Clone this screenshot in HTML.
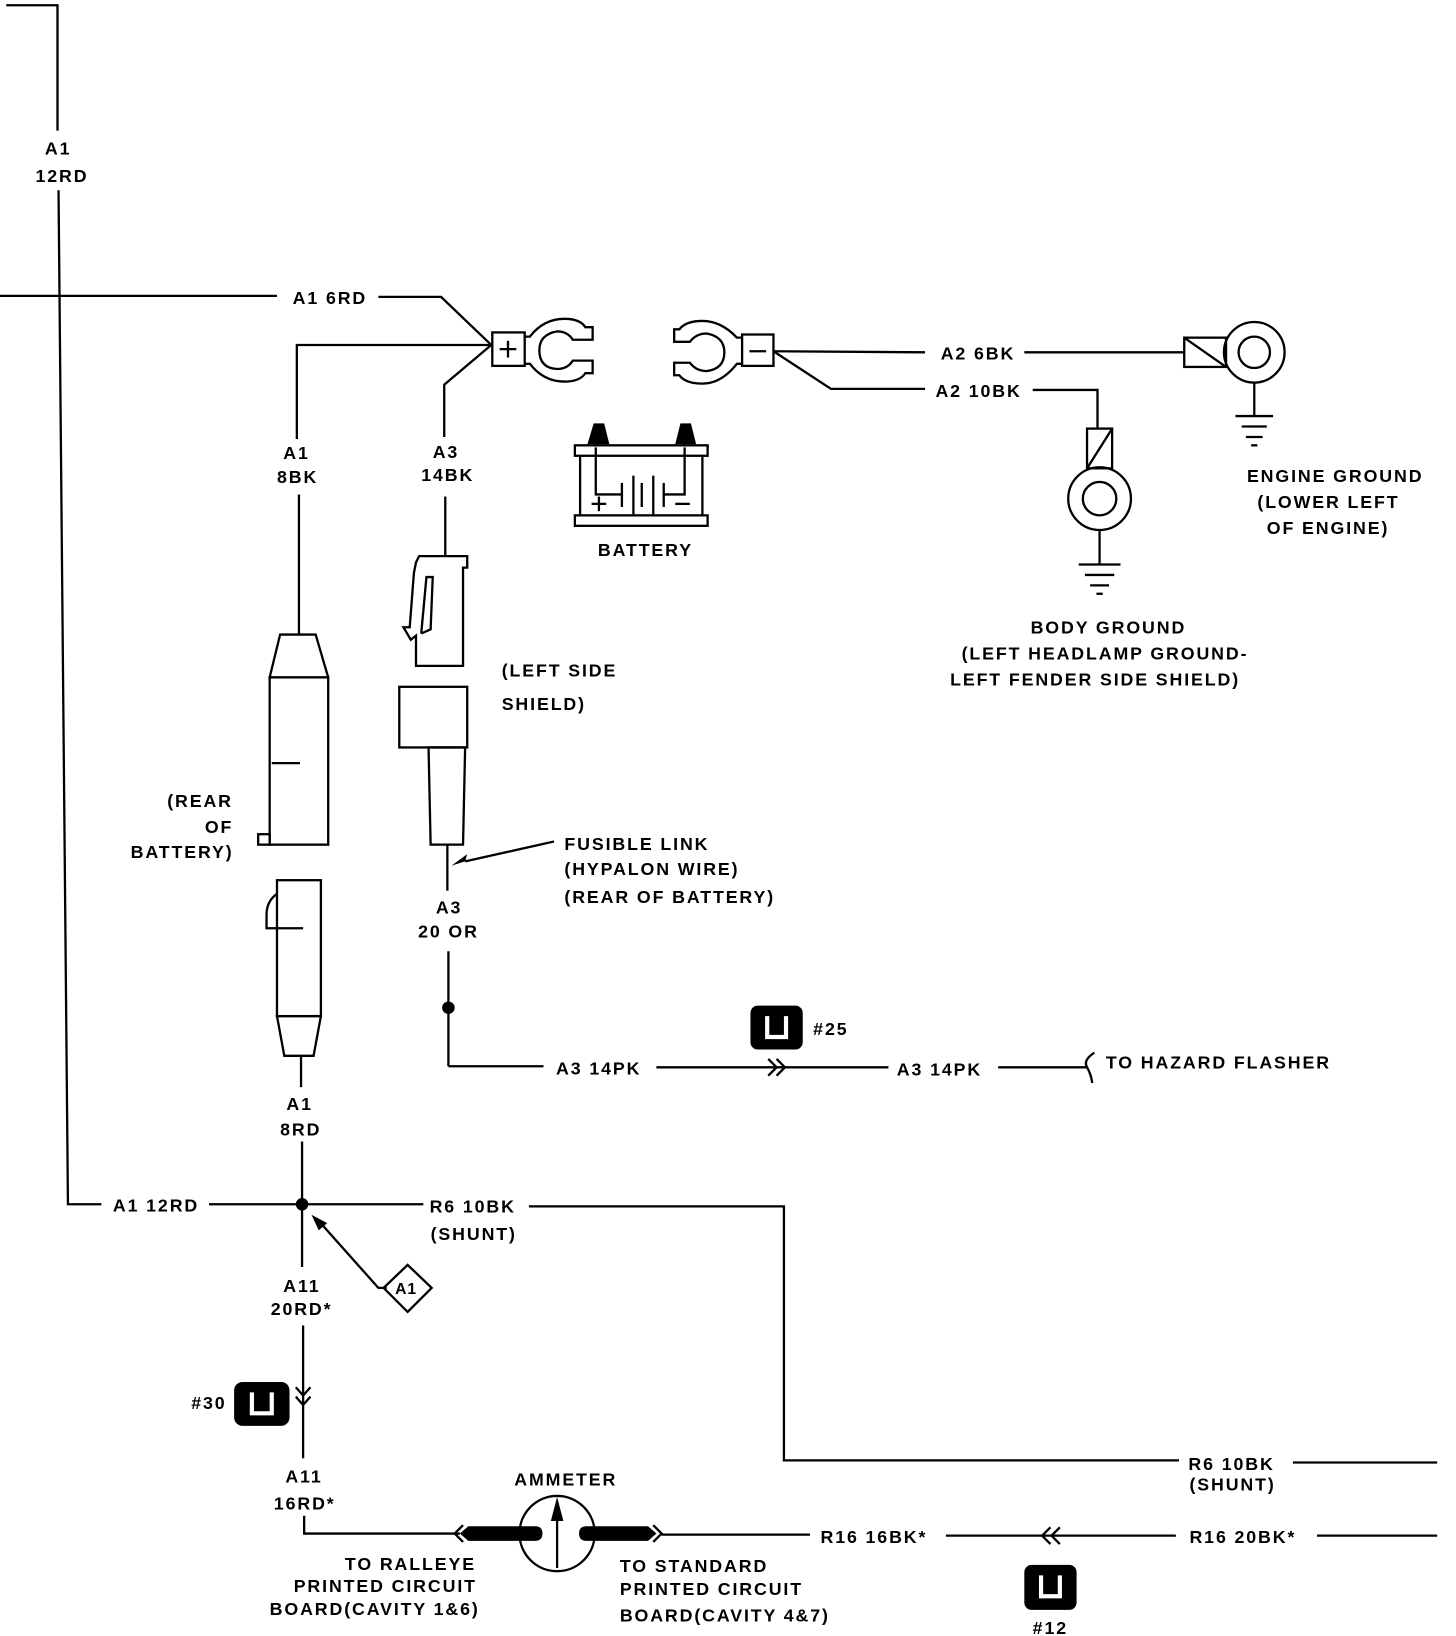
<!DOCTYPE html>
<html><head><meta charset="utf-8"><style>
html,body{margin:0;padding:0;background:#fff;}
svg{display:block;}
text{font-family:"Liberation Sans",sans-serif;font-weight:bold;font-size:17px;letter-spacing:1.8px;fill:#000;}
</style></head><body>
<svg width="1456" height="1636" viewBox="0 0 1393 1565" preserveAspectRatio="none" xmlns="http://www.w3.org/2000/svg">
<g fill="none" stroke="#000" stroke-width="2.2">
<polyline points="6,5 55,5 55,125"/>
<polyline points="56,182 65,1152 97,1152"/>
<line x1="0" y1="283" x2="265" y2="283"/>
<polyline points="362,284 422,284 470,330"/>
<line x1="200" y1="1152" x2="405" y2="1152"/>
<polyline points="470,330 284,330 284,420"/>
<line x1="286" y1="473" x2="286" y2="607"/>
<polyline points="470,330 425,368 425,418"/>
<line x1="426" y1="475" x2="426" y2="532"/>
<rect x="471" y="318" width="31" height="32"/>
<line x1="478" y1="334" x2="494" y2="334"/><line x1="486" y1="326" x2="486" y2="342"/>
<path d="M502,322 L507,322 Q520,305 540,305 Q555,305 560,313 L567,313 L567,325 L548,325 Q543,317 533,317 Q516,320 516,335 Q516,352 533,353 Q543,353 548,345 L567,345 L567,357 L560,357 Q555,365 540,365 Q520,365 507,348 L502,348"/>
<rect x="710" y="320" width="30" height="30"/>
<line x1="717" y1="336" x2="733" y2="336"/>
<path d="M710,323 L705,323 Q690,307 672,307 Q656,307 650,315 L645,315 L645,327 L660,327 Q666,319 676,319 Q693,322 693,337 Q693,353 676,355 Q666,355 660,347 L645,347 L645,359 L650,359 Q656,367 672,367 Q690,367 705,348 L710,348"/>
<line x1="740" y1="336" x2="885" y2="337"/>
<line x1="980" y1="337" x2="1133" y2="337"/>
<polyline points="740,336 795,372 885,372"/>
<polyline points="988,373 1050,373 1050,410"/>
<rect x="1133" y="323" width="40" height="28"/><line x1="1133" y1="323" x2="1173" y2="351"/>
<circle cx="1200" cy="337" r="29"/><circle cx="1200" cy="337" r="15"/>
<line x1="1200" y1="366" x2="1200" y2="398"/>
<line x1="1182" y1="398" x2="1218" y2="398"/><line x1="1188" y1="408" x2="1212" y2="408"/><line x1="1192" y1="418" x2="1208" y2="418"/><line x1="1197" y1="426" x2="1203" y2="426"/>
<rect x="1040" y="410" width="24" height="38"/><line x1="1040" y1="448" x2="1064" y2="410"/>
<circle cx="1052" cy="477" r="30"/><circle cx="1052" cy="477" r="16"/>
<line x1="1052" y1="507" x2="1052" y2="540"/>
<line x1="1032" y1="540" x2="1072" y2="540"/><line x1="1038" y1="550" x2="1066" y2="550"/><line x1="1043" y1="560" x2="1061" y2="560"/><line x1="1049" y1="568" x2="1055" y2="568"/>
<rect x="550" y="426" width="127" height="10"/>
<rect x="550" y="493" width="127" height="10"/>
<line x1="555" y1="436" x2="555" y2="493"/><line x1="672" y1="436" x2="672" y2="493"/>
<polyline points="570,428 570,473 595,473"/><polyline points="655,428 655,473 635,473"/>
<line x1="595" y1="462" x2="595" y2="485"/><line x1="606" y1="455" x2="606" y2="492"/>
<line x1="614" y1="462" x2="614" y2="485"/><line x1="625" y1="455" x2="625" y2="492"/><line x1="635" y1="462" x2="635" y2="485"/>
<line x1="566" y1="482" x2="580" y2="482"/><line x1="573" y1="475" x2="573" y2="489"/><line x1="646" y1="482" x2="660" y2="482"/>
<polygon points="268,607 302,607 314,648 258,648"/>
<rect x="258" y="648" width="56" height="160"/>
<line x1="260" y1="730" x2="287" y2="730"/>
<rect x="247" y="798" width="11" height="10"/>
<rect x="265" y="842" width="42" height="130"/>
<path d="M265,855 Q255,862 255,875 L255,888 L265,888 L290,888"/>
<polygon points="265,972 307,972 300,1010 272,1010"/>
<line x1="288" y1="1010" x2="288" y2="1040"/>
<line x1="289" y1="1092" x2="289" y2="1212"/>
<line x1="290" y1="1268" x2="290" y2="1395"/>
<path d="M398,538 L401,532 L447,532 L447,543 L443,543 L443,637 L398,637 L398,608 L393,612 L386,600 L392,600 L396,548 Z"/>
<path d="M403,606 L408,552 L414,552 L412,602 L403,606"/>
<rect x="382" y="657" width="65" height="58"/>
<polygon points="410,715 445,715 443,808 412,808"/>
<line x1="428" y1="808" x2="428" y2="852"/>
<line x1="530" y1="805" x2="445" y2="824"/>
<line x1="429" y1="910" x2="429" y2="1020"/>
<polyline points="429,1020 520,1020"/>
<line x1="628" y1="1021" x2="850" y2="1021"/>
<polyline points="735,1013 743,1021 735,1029"/><polyline points="743,1013 751,1021 743,1029"/>
<line x1="955" y1="1021" x2="1040" y2="1021"/>
<path d="M1047,1007 Q1036,1014 1040,1021 Q1044,1028 1045,1036"/>
<polyline points="506,1154 750,1154 750,1397 1128,1397"/>
<line x1="1237" y1="1399" x2="1375" y2="1399"/>
<polyline points="370,1232 362,1232 305,1168"/>
<polygon points="390,1210 413,1232 390,1255 367,1232"/>
<polyline points="283,1327 290,1335 297,1327"/><polyline points="283,1336 290,1344 297,1336"/>
<polyline points="291,1450 291,1467 440,1467"/>
<polyline points="443,1459 435,1467 443,1475"/>
<circle cx="533" cy="1467" r="36"/>
<line x1="533" y1="1500" x2="533" y2="1440"/>
<polyline points="625,1459 633,1467 625,1475"/>
<line x1="633" y1="1468" x2="775" y2="1468"/>
<line x1="905" y1="1469" x2="1125" y2="1469"/>
<polyline points="1005,1461 997,1469 1005,1477"/><polyline points="1014,1461 1006,1469 1014,1477"/>
<line x1="1260" y1="1469" x2="1375" y2="1469"/>
</g>
<g fill="#000">
<polygon points="562,425 568,405 578,405 583,425"/><polygon points="646,425 651,405 661,405 666,425"/>
<polygon points="445,824 432,828 447,817"/>
<circle cx="429" cy="964" r="6"/>
<circle cx="289" cy="1152" r="6"/>
<polygon points="298,1162 313,1170 305,1177"/>
<polygon points="533,1432 527,1455 539,1455"/>
<path d="M440,1467 L448,1460 L512,1460 Q519,1460 519,1467 Q519,1474 512,1474 L448,1474 Z"/>
<path d="M628,1467 L620,1460 L561,1460 Q554,1460 554,1467 Q554,1474 561,1474 L620,1474 Z"/>
<rect x="718" y="962" width="50" height="42" rx="7"/>
<rect x="224" y="1322" width="53" height="42" rx="8"/>
<rect x="980" y="1497" width="50" height="43" rx="7"/>
</g>
<g fill="none" stroke="#fff" stroke-width="4">
<polyline points="734,972 734,992 752,992 752,972"/>
<polyline points="241,1332 241,1352 260,1352 260,1332"/>
<polyline points="996,1507 996,1527 1014,1527 1014,1507"/>
</g>
<text x="43" y="148">A1</text>
<text x="34" y="174">12RD</text>
<text x="280" y="291">A1 6RD</text>
<text x="271" y="439">A1</text>
<text x="265" y="462">8BK</text>
<text x="414" y="438">A3</text>
<text x="403" y="460">14BK</text>
<text x="572" y="532">BATTERY</text>
<text x="900" y="344">A2 6BK</text>
<text x="895" y="380">A2 10BK</text>
<text x="1193" y="461">ENGINE GROUND</text>
<text x="1203" y="486">(LOWER LEFT</text>
<text x="1212" y="511">OF ENGINE)</text>
<text x="986" y="606">BODY GROUND</text>
<text x="920" y="631">(LEFT HEADLAMP GROUND-</text>
<text x="909" y="656">LEFT FENDER SIDE SHIELD)</text>
<text x="480" y="647">(LEFT SIDE</text>
<text x="480" y="679">SHIELD)</text>
<text x="160" y="772">(REAR</text>
<text x="196" y="797">OF</text>
<text x="125" y="821">BATTERY)</text>
<text x="540" y="813">FUSIBLE LINK</text>
<text x="540" y="837">(HYPALON WIRE)</text>
<text x="540" y="864">(REAR OF BATTERY)</text>
<text x="417" y="874">A3</text>
<text x="400" y="897">20 OR</text>
<text x="778" y="990">#25</text>
<text x="532" y="1028">A3 14PK</text>
<text x="858" y="1029">A3 14PK</text>
<text x="1058" y="1022">TO HAZARD FLASHER</text>
<text x="274" y="1062">A1</text>
<text x="268" y="1086">8RD</text>
<text x="108" y="1159">A1 12RD</text>
<text x="411" y="1160">R6 10BK</text>
<text x="412" y="1186">(SHUNT)</text>
<text x="378" y="1238" style="font-size:15px;letter-spacing:1px">A1</text>
<text x="271" y="1236">A11</text>
<text x="259" y="1258">20RD*</text>
<text x="183" y="1348">#30</text>
<text x="273" y="1418">A11</text>
<text x="262" y="1444">16RD*</text>
<text x="492" y="1421">AMMETER</text>
<text x="330" y="1502">TO RALLEYE</text>
<text x="281" y="1523">PRINTED CIRCUIT</text>
<text x="258" y="1545">BOARD(CAVITY 1&amp;6)</text>
<text x="593" y="1504">TO STANDARD</text>
<text x="593" y="1526">PRINTED CIRCUIT</text>
<text x="593" y="1551">BOARD(CAVITY 4&amp;7)</text>
<text x="785" y="1476">R16 16BK*</text>
<text x="1138" y="1476">R16 20BK*</text>
<text x="1137" y="1406">R6 10BK</text>
<text x="1138" y="1426">(SHUNT)</text>
<text x="988" y="1563">#12</text>
</svg>
</body></html>
